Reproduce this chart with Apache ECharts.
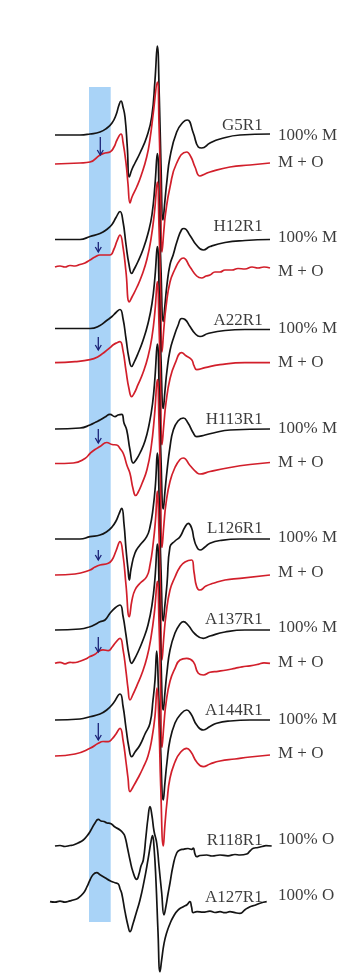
<!DOCTYPE html>
<html><head><meta charset="utf-8">
<script src="https://cdn.jsdelivr.net/npm/echarts@6/dist/echarts.min.js"></script>
<style>html,body{margin:0;padding:0;background:#fff}#c{width:340px;height:975px}</style>
</head><body><div id="c"></div>
<script>
// Field axis (a.u.) and vertical offset axis (a.u.); spectra are amplitude vs field, stacked by offsets.
const sampleNames = ['G5R1','H12R1','A22R1','H113R1','L126R1','A137R1','A144R1','R118R1','A127R1'];
const conditionLabels = ['100% M','M + O','100% M','M + O','100% M','M + O','100% M','M + O','100% M','M + O','100% M','M + O','100% M','M + O','100% O','100% O'];
const seriesColors = ['black','red','black','red','black','red','black','red','black','red','black','red','black','red','black','black'];
// baseline offsets of each trace (same order as traces)
const offsets = [840, 811, 735.5, 708, 646.5, 612.3, 546, 511.5, 436, 400, 345, 311.7, 255, 219, 129, 73.3];

const g5r1M = [[55,0],[80,0],[90,1],[100,3],[107,7],[112,12],[116,20],[119,30],[121,34],[123,28],[125,18],[127.3,-12],[129.3,-42],[131.7,-35],[135,-28],[140,-18],[146.7,-2],[151.7,18],[155,55],[157.3,89],[159.3,38],[161,-30],[163,-85],[165,-65],[166.7,-48],[170,-22],[176.7,3],[183.3,13],[187.3,15],[193.3,2],[198.3,-12],[201.7,-13],[210,-8],[220,-4],[240,0],[270,1]];
const g5r1MO = [[55,0],[80,1],[90,2],[100,9],[105,11],[110,12],[114,17],[117,24],[121,30],[123,22],[126,1],[128,-20],[130,-39],[132,-33],[136.7,-23],[141,-12],[146.7,7],[150,25],[153.3,51],[157.3,82],[159,40],[160.5,-20],[162,-88],[164,-65],[165.5,-50],[170,-23],[176.7,1],[186.7,12],[191,7],[195,-3],[200,-12],[205,-10],[210,-8],[230,-3],[250,-1],[270,1]];
const h12r1M = [[55,0],[80,0],[90,3],[100,6],[106.7,10],[112,15],[116,22],[120,28],[123,18],[126,-5],[129,-25],[131.7,-34],[134,-30],[138,-22],[143,-10],[148,6],[152,25],[155,55],[157.3,86],[159.3,35],[161,-30],[163.3,-82],[165,-65],[167,-45],[170,-25],[173.3,-15],[177,-2],[181.7,10],[184,11],[190,4],[196,-5],[203.3,-10.5],[210,-7],[225,-3],[245,-1],[270,0]];
const h12r1MO = [[55,0],[60,1],[65,0],[70,1.5],[75,1],[80,2.5],[85,4],[90,7],[95,10],[100,12],[105,12],[110,12],[114,18],[117,26],[120,32],[123,20],[126,-5],[129.3,-35],[132,-30],[137,-20],[142,-8],[147,8],[151,28],[154.5,55],[157.3,85],[159,40],[160.5,-20],[162,-85],[164,-60],[166,-40],[170,-15],[175,-2],[180,7],[183.3,9],[190,0],[196.7,-9],[201.7,-11],[206,-9],[210,-8],[215,-5],[220,-5],[225,-3],[232,-3],[238,-1.5],[245,-2],[252,0],[258,-1],[264,0],[270,-1]];
const a22r1M = [[55,0],[80,0],[90,0],[100,3],[106.7,8],[112,12],[116,16],[120,19],[123,10],[126,-10],[129,-30],[131.7,-38],[134,-34],[138,-25],[143,-12],[148,5],[152,25],[155,52],[157.3,82],[159.3,32],[161,-30],[163.3,-80],[165,-62],[167,-42],[170,-22],[174,-8],[178,3],[181.7,10],[185,9],[190,2],[195,-5],[200,-8],[208,-5],[225,-2],[245,-1],[270,-1]];
const a22r1MO = [[55,0],[75,1],[90,3],[98,6],[105,11],[110,15],[113.3,18],[117,20],[120,21],[123,12],[126,-8],[129,-26],[131.7,-34],[134,-31],[138,-22],[143,-10],[148,6],[152,26],[155,52],[157.3,81],[159,38],[160.5,-20],[162,-82],[164,-60],[166,-40],[170,-16],[175,-1],[181.7,10],[186,7],[191.7,3],[194,-3],[196.7,-7],[205,-5],[220,-2],[245,0],[270,0]];
const h113r1M = [[55,0],[80,1],[90,4],[96,7],[100,9],[105,12],[110,14.7],[115,12.3],[118,14],[121.7,14.7],[124,6],[126.7,-1],[130,-21],[133.3,-34],[136,-31],[140,-24],[145,-12],[149,4],[152.5,25],[155,52],[157.3,85],[159.3,35],[161,-30],[163.3,-80],[165,-62],[167,-42],[170,-18],[173.3,-1],[178,8],[183.3,11],[188,6],[193.3,-4],[196.7,-7.7],[205,-6],[213.3,-4],[230,-1],[270,0]];
const h113r1MO = [[55,0],[73.3,0.5],[85,5],[90,10],[95,14],[100,17],[106.7,21],[112,19],[116.7,18.5],[120,15],[123.3,10],[127,-2],[130,-10],[133,-25],[135.7,-32],[138,-29],[142,-20],[147,-6],[151,15],[154.5,48],[157.3,84],[159,40],[160.5,-20],[162,-84],[164,-60],[166,-40],[170,-18],[175,-4],[180,4],[183.3,5.5],[190,-2],[196.7,-9],[200,-10.5],[210,-8],[230,-4],[250,-1],[270,1]];
const l126r1M = [[55,0],[80,0],[90,2.3],[100,4],[106.7,7.3],[112,12],[116,18],[119,25],[121.7,30.7],[124,15],[126,-10],[128,-30],[129.3,-41],[131,-30],[135,-14],[140,-6],[146.7,2.3],[150,12],[153,30],[155.5,55],[157.3,86],[159.3,35],[161,-30],[163.3,-82],[165,-65],[167,-45],[170,-7.7],[175,-2],[180,2.3],[185,12],[188.3,15.7],[191.7,10.7],[194,0],[196.7,-7.7],[200,-11],[205,-8],[210,-4.3],[220,-1.5],[240,0],[270,0]];
const l126r1MO = [[55,0],[75,1],[90,5],[95,8],[100,10],[108.3,11.7],[112,15],[116,24],[120,33.3],[123,20],[126,-10],[129.3,-41.7],[132,-25],[135,-15],[140,-8.3],[146.7,-1.7],[150,10],[153,30],[155.5,55],[157.3,84],[159,40],[160.5,-20],[162,-85],[164,-60],[166,-40],[170,-15],[175,-2],[180,8],[185,13],[191.7,15],[194,3],[196.7,-11.7],[200,-15],[206,-11],[213.3,-8.3],[225,-5],[240,-3.3],[270,0]];
const a137r1M = [[55,0],[80,1],[90,3.3],[96,6],[100,8.3],[105,10],[110,16.7],[115,22],[120,25],[123,14],[126,-5],[129,-25],[131.7,-33.3],[134,-30],[138,-22],[143,-10],[148,5],[152,25],[155,52],[157.3,86],[159.3,35],[161,-30],[163.3,-80],[165,-62],[167,-42],[170,-20],[175,-3],[180,6],[183.3,8.3],[188,5],[195,-4],[203.3,-8.3],[210,-6],[225,-2],[245,0],[270,0]];
const a137r1MO = [[55,0],[60,1],[65,-0.5],[70,1],[73.3,0.6],[80,2],[85,4],[90,6.7],[95,9],[98.3,11.7],[103,13.5],[108.3,12.6],[112,16],[115,20],[120,25],[123,14],[126,-8],[128,-25],[130,-36.7],[133,-31],[137,-22],[142,-10],[147,6],[151,26],[154.5,52],[157.3,82],[159,40],[160.5,-20],[162,-84],[164,-60],[166,-40],[170,-18],[175,-5],[180,3.3],[186.7,5],[193.3,1.6],[198.3,-10],[203.3,-11.7],[210,-9],[218,-8],[226.7,-6.7],[235,-5],[242,-3.5],[250,-2.5],[258,-1],[264,0.5],[270,0]];
const a144r1M = [[55,0],[80,1],[90,3.3],[100,6],[106.7,10],[113.3,16.7],[120,26],[123,14],[126,-8],[129,-28],[131.7,-36.7],[135,-32],[140,-25],[145,-14],[150,-3.3],[153,20],[155,40],[156.7,69],[158.5,30],[160.5,-25],[163.3,-80],[165,-62],[167,-42],[170,-20],[175,-3],[180,5],[186.7,10],[191,6],[196.7,-5],[203.3,-10],[210,-6.5],[216.7,-3.3],[230,-1],[250,0],[270,0]];
const a144r1MO = [[55,0],[75,2],[90,7.7],[98.3,12.7],[103,14.5],[108.3,14.3],[112,17],[116,22],[120,27.7],[123,16],[126,-6],[128,-22],[130,-35.7],[133,-31],[138,-22],[143,-12],[148,0],[152,18],[155,40],[157,68],[159,30],[160.7,-30],[163.3,-90],[165,-68],[167,-46],[170,-22],[175,-6],[180,3],[186.7,7.7],[191,4],[196.7,-6],[203.3,-10.7],[210,-8],[220,-5],[235,-3],[250,-1],[270,1]];
const r118r1O = [[55,0],[60,0.5],[65,-0.5],[70,0.5],[73.3,1],[78,3],[83.3,6],[87,10],[90,14.3],[95,23],[98.3,26.7],[101,25],[104,24.5],[107,23],[110,22.7],[115,19],[120,16],[123,13],[125,9.3],[127.5,-2],[130,-14],[133,-26],[136.7,-33.3],[139,-28],[141,-20],[143.3,-14],[146,10],[148,28],[150,39.3],[152,30],[154,15],[156.7,3],[159,-20],[161.7,-47],[164,-69],[166,-60],[168,-48],[170,-37],[173,-20],[176.7,-7],[180,-4],[183.3,-3.3],[188,-2.5],[191.7,-3.3],[193.3,-2],[195,-8],[196.7,-10.7],[200,-9.5],[206.7,-9],[212,-10],[220,-9],[228,-9.8],[235,-8.5],[240,-9],[246.7,-8],[250,-5],[253.3,-2.3],[258,-1.5],[262,-0.5],[266,0.3],[271.7,0]];
const a127r1O = [[50,0],[55,-0.5],[60,0.6],[65,-0.4],[70,0.8],[73.3,1.7],[78,3.5],[83.3,8.4],[87,15],[90,21.7],[93,27],[96.7,29],[100,27],[105,24],[110,21],[115,19],[118.3,17.7],[120,13],[121.7,8.4],[125,-10],[128,-24],[130,-30],[133,-22],[136,-12],[140,1.7],[144,20],[148,42],[151,60],[152.5,66],[154,55],[156,20],[158,-30],[160,-70],[161.7,-58],[164,-42],[166.7,-31],[170,-22],[173.3,-15],[178,-8.5],[183.3,-5],[187,-3],[190,0],[191.5,-5],[193.3,-11],[197,-10],[203,-10.5],[210,-9.5],[215,-10.8],[220,-10],[225,-11],[230,-10],[235,-11],[240,-11.6],[245,-8],[250,-5],[255,-3.5],[260,-1.5],[266.7,0]];

const traces = [g5r1M,g5r1MO,h12r1M,h12r1MO,a22r1M,a22r1MO,h113r1M,h113r1MO,l126r1M,l126r1MO,a137r1M,a137r1MO,a144r1M,a144r1MO,r118r1O,a127r1O];

// label positions (field, offset-axis)
const nameLabelX = 262.7;
const nameLabelY = [849, 748, 654, 555, 446.5, 355, 264, 134, 77.5];
const condLabelX = 278;
const condLabelY = [839, 812, 737, 703, 646, 612.5, 546, 512.5, 437.5, 402, 347, 312.5, 255, 221, 135, 79];

// arrows marking the shoulder (field, top, bottom)
const arrowX = [100.3, 98.3, 98.3, 98.3, 98.3, 98.3, 98.3];
const arrowTop = [838, 733, 638, 546, 425, 338, 252];
const arrowBottom = [820, 723, 625, 532, 415, 323, 235];

// shaded field window
const bandField = [89, 110.7];
const bandOffset = [53, 888];

const colorMap = {black: '#141414', red: '#d21f2b'};
const series = [];
series.push({
  type: 'line', data: [], silent: true, z: 0,
  markArea: {silent: true, itemStyle: {color: '#a9d3f7'},
    data: [[{xAxis: bandField[0], yAxis: bandOffset[0]}, {xAxis: bandField[1], yAxis: bandOffset[1]}]]}
});
traces.forEach((t, i) => {
  series.push({
    type: 'line', showSymbol: false, smooth: 0.5, silent: true, z: 2,
    lineStyle: {color: colorMap[seriesColors[i]], width: 1.7, join: 'round'},
    data: t.map(p => [p[0], p[1] + offsets[i]])
  });
});
series.push({
  type: 'custom', z: 5, silent: true,
  data: arrowX.map((x, i) => [x, arrowTop[i], arrowBottom[i]]),
  renderItem: function (params, api) {
    const a = api.coord([api.value(0), api.value(1)]);
    const b = api.coord([api.value(0), api.value(2)]);
    const st = {stroke: '#1c2378', lineWidth: 1.3, fill: null};
    return {type: 'group', children: [
      {type: 'line', shape: {x1: a[0], y1: a[1], x2: b[0], y2: b[1]}, style: st},
      {type: 'polyline', shape: {points: [[b[0] - 3, b[1] - 5], [b[0], b[1]], [b[0] + 3, b[1] - 5]]}, style: st}
    ]};
  }
});
const txt = {color: '#0a0a0a', fontFamily: 'Liberation Serif', fontSize: 17};
series.push({
  type: 'scatter', symbolSize: 0, silent: true, z: 6,
  data: sampleNames.map((n, i) => ({value: [nameLabelX, nameLabelY[i]], name: n})),
  label: Object.assign({show: true, position: 'left', distance: 0, formatter: p => p.name}, txt)
});
series.push({
  type: 'scatter', symbolSize: 0, silent: true, z: 6,
  data: conditionLabels.map((n, i) => ({value: [condLabelX, condLabelY[i]], name: n})),
  label: Object.assign({show: true, position: 'right', distance: 0, formatter: p => p.name}, txt)
});

const chart = echarts.init(document.getElementById('c'));
chart.setOption({
  animation: false,
  backgroundColor: '#fff',
  grid: {left: 0, right: 0, top: 0, bottom: 0},
  xAxis: {type: 'value', min: 0, max: 340, show: false},
  yAxis: {type: 'value', min: 0, max: 975, show: false},
  series: series
});
</script></body></html>
